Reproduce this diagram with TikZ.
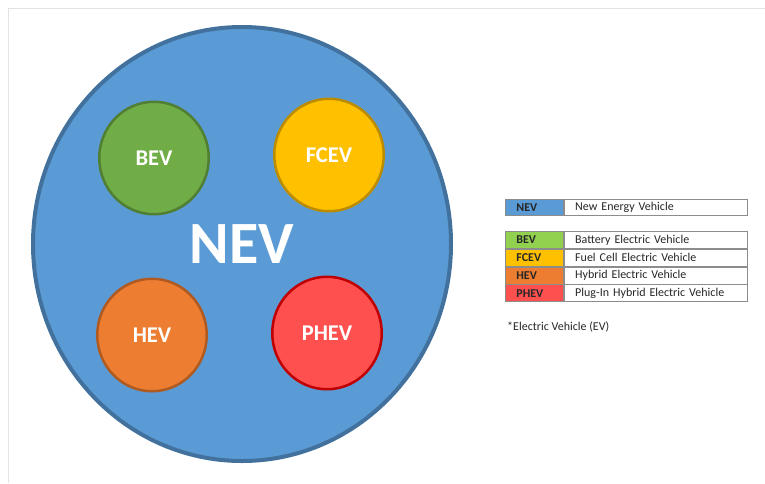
\documentclass[tikz,border=0pt]{standalone}
\usepackage{fontspec}
\setmainfont{Carlito}
\usepackage{xcolor}
\usepackage{tikz}
\usetikzlibrary{shapes.geometric, positioning}

\definecolor{nevblue}{HTML}{5B9BD5}
\definecolor{nevedge}{HTML}{41719C}
\definecolor{bevgreen}{HTML}{70AD47}
\definecolor{bevedge}{HTML}{507E32}
\definecolor{bevkey}{HTML}{92D050}
\definecolor{fcevyellow}{HTML}{FFC000}
\definecolor{fcevedge}{HTML}{BC8C00}
\definecolor{hevorange}{HTML}{ED7D31}
\definecolor{hevedge}{HTML}{AE5A21}
\definecolor{phevred}{HTML}{FF5050}
\definecolor{phevedge}{HTML}{C00000}
\definecolor{framegray}{HTML}{E3E3E3}
\definecolor{cellgray}{HTML}{8C8C8C}

\begin{document}
\begin{tikzpicture}[x=1pt, y=-1pt]
        \tikzstyle{big} = [ellipse, draw=nevedge, fill=nevblue, line width=4pt, minimum width=418pt, minimum height=434pt, text=white, font=\fontsize{60}{60}\selectfont\bfseries]
        \tikzstyle{kind} = [ellipse, line width=2.5pt, minimum width=109.5pt, minimum height=112.5pt, text=white, font=\fontsize{22.5}{22.5}\selectfont\bfseries]
        \tikzstyle{key} = [rectangle, draw=cellgray, line width=0.8pt, anchor=north west, text width=36pt, inner xsep=11pt, inner ysep=0pt, minimum height=17pt, align=left, font=\fontsize{12}{12}\selectfont\bfseries, text=black!85]
        \tikzstyle{desc} = [rectangle, draw=cellgray, line width=0.8pt, anchor=north west, text width=161pt, inner xsep=11pt, inner ysep=0pt, minimum height=17pt, align=left, font=\fontsize{12}{12}\selectfont, text=black!85]

        \useasboundingbox (0,0) rectangle (765,483);
        \draw [framegray, line width=1pt] (8,483) -- (8,8) -- (765,8);

        % Circles
        \node [big] (nev) at (242,244) {NEV};
        \node [kind, draw=bevedge, fill=bevgreen] (bev) at (154,158) {BEV};
        \node [kind, draw=fcevedge, fill=fcevyellow] (fcev) at (329,155) {FCEV};
        \node [kind, draw=hevedge, fill=hevorange] (hev) at (152,335) {HEV};
        \node [kind, draw=phevedge, fill=phevred] (phev) at (327,333) {PHEV};

        % Legend
        \node [key, fill=nevblue, minimum height=16pt] (nevkey) at (505,199) {NEV};
        \node [desc, minimum height=16pt, right=0pt of nevkey] (nevtxt) {New Energy Vehicle};

        \node [key, fill=bevkey] (bevkey) at (505,231) {BEV};
        \node [desc, right=0pt of bevkey] (bevtxt) {Battery Electric Vehicle};
        \node [key, fill=fcevyellow, below=0pt of bevkey] (fcevkey) {FCEV};
        \node [desc, right=0pt of fcevkey] (fcevtxt) {Fuel Cell Electric Vehicle};
        \node [key, fill=hevorange, below=0pt of fcevkey] (hevkey) {HEV};
        \node [desc, right=0pt of hevkey] (hevtxt) {Hybrid Electric Vehicle};
        \node [key, fill=phevred, below=0pt of hevkey] (phevkey) {PHEV};
        \node [desc, right=0pt of phevkey] (phevtxt) {Plug-In Hybrid Electric Vehicle};

        \node [anchor=west, inner sep=0pt, font=\fontsize{12}{12}\selectfont, text=black!85] (evnote) at (507,327) {*Electric Vehicle (EV)};
    \end{tikzpicture}
\end{document}
